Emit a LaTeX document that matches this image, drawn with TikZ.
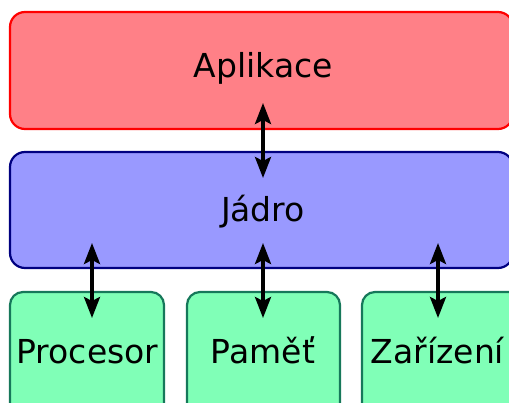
\documentclass[tikz,border=0pt]{standalone}
\usepackage{fontspec}
\setmainfont{DejaVu Sans}
\usetikzlibrary{arrows.meta}

\definecolor{appfill}{RGB}{255,128,135}
\definecolor{appline}{RGB}{255,0,0}
\definecolor{kernfill}{RGB}{153,153,255}
\definecolor{kernline}{RGB}{0,0,128}
\definecolor{hwfill}{RGB}{128,255,183}
\definecolor{hwline}{RGB}{22,120,90}

\tikzset{
  layer/.style={rectangle, rounded corners=15pt, line width=2.2pt, inner sep=0pt},
  appbox/.style={layer, draw=appline, fill=appfill},
  kernbox/.style={layer, draw=kernline, fill=kernfill},
  hwbox/.style={layer, rounded corners=13pt, draw=hwline, fill=hwfill},
  caption/.style={anchor=base, inner sep=0pt, font=\fontsize{33}{40}\selectfont},
  link/.style={line width=3.4pt,
    {Stealth[length=21pt,width=16pt,inset=4pt]}-{Stealth[length=21pt,width=16pt,inset=4pt]}}
}

\begin{document}
\begin{tikzpicture}[x=1pt, y=-1pt]
  \useasboundingbox (0,0) rectangle (509,403);

  % layers
  \node[appbox, minimum width=503pt, minimum height=117pt] (app) at (261.5,70.5) {};
  \node[kernbox, minimum width=503pt, minimum height=116pt] (kern) at (261.5,210) {};
  \node[hwbox, minimum width=154pt, minimum height=130pt] (cpu) at (87,357) {};
  \node[hwbox, minimum width=153pt, minimum height=130pt] (mem) at (263.5,357) {};
  \node[hwbox, minimum width=160pt, minimum height=130pt] (dev) at (442,357) {};

  % labels
  \node[caption] (tapp) at (263.5,78) {Aplikace};
  \node[caption] (tkern) at (263,222) {Jádro};
  \node[caption] (tcpu) at (87.5,363) {Procesor};
  \node[caption] (tmem) at (263,363) {Paměť};
  \node[caption] (tdev) at (437.5,363) {Zařízení};

  % arrow ends
  \coordinate (appdown) at (263,103);
  \coordinate (kernup) at (263,178);
  \coordinate (kcpu) at (92,243);
  \coordinate (cpuup) at (92,318);
  \coordinate (kmem) at (263,243);
  \coordinate (memup) at (263,318);
  \coordinate (kdev) at (438,243);
  \coordinate (devup) at (438,318);

  % connectors
  \draw[link] (appdown) -- (kernup);
  \draw[link] (kcpu) -- (cpuup);
  \draw[link] (kmem) -- (memup);
  \draw[link] (kdev) -- (devup);
\end{tikzpicture}
\end{document}
